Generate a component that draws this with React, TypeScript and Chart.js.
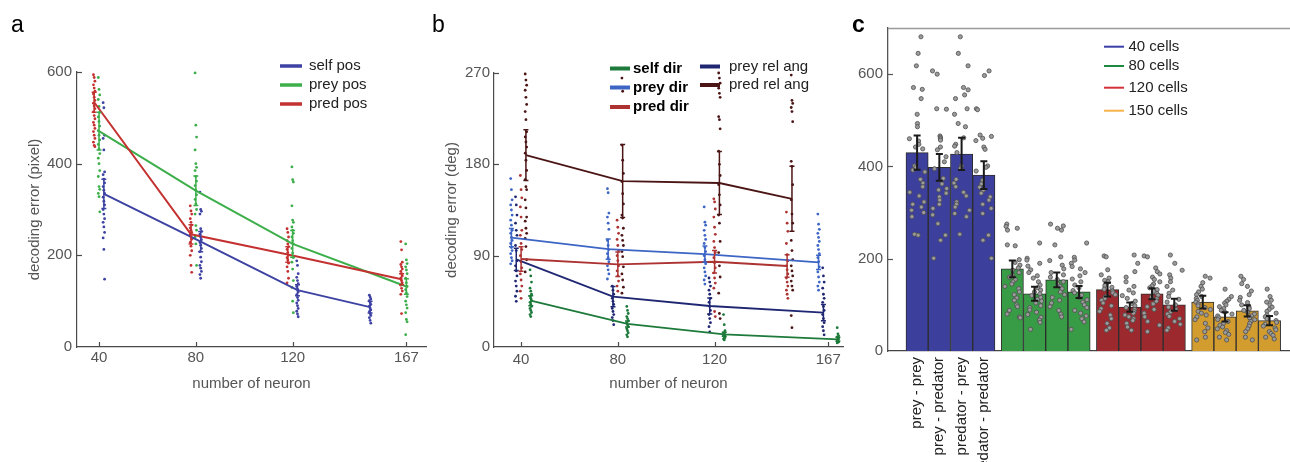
import React, { useEffect, useRef } from "react";
import { Chart, registerables } from "chart.js";

Chart.register(...registerables);

const FONT = "'Liberation Sans', Arial, Helvetica, sans-serif";
Chart.defaults.font.family = FONT;

// ---------------- shared ----------------
const NEURON_TICKS = [40, 80, 120, 167];

// ---------------- panel a (position decoding, pixel) ----------------
const A_Y_TICKS = [0, 200, 400, 600];
const A_SELF_X = [40, 80, 120, 150];
const A_PREY_X = [40, 80, 120, 167];
const A_PRED_X = [40, 80, 120, 167];
const A_SELF_MEAN = [334, 230, 124, 87];
const A_SELF_ERR = [32, 22, 12, 13];
const A_PREY_MEAN = [471, 341, 225, 132];
const A_PREY_ERR = [41, 32, 29, 17];
const A_PRED_MEAN = [534, 246, 202, 148];
const A_PRED_ERR = [22, 21, 17, 12];
const A_SELF_DOTS = [
  [533, 522, 462, 455, 430, 382, 376, 366, 358, 350, 342, 335, 327, 318, 310, 300, 290, 280, 272, 262, 250, 238, 213, 148],
  [338, 300, 296, 290, 258, 252, 246, 240, 234, 228, 222, 215, 208, 196, 186, 178, 172, 165, 158, 150],
  [188, 178, 160, 152, 145, 138, 132, 126, 120, 114, 108, 102, 96, 90, 84, 78, 72, 66],
  [113, 109, 105, 101, 97, 93, 89, 85, 81, 77, 73, 69, 64, 58, 52],
];
const A_PREY_DOTS = [
  [588, 562, 550, 540, 525, 512, 502, 492, 482, 472, 462, 452, 442, 432, 422, 412, 400, 385, 372, 350, 344, 335, 328, 295],
  [598, 484, 458, 430, 400, 392, 385, 372, 362, 352, 342, 332, 322, 312, 300, 290, 265, 255, 240, 225, 178],
  [393, 365, 360, 308, 277, 272, 262, 255, 248, 240, 232, 225, 215, 205, 195, 185, 170, 145, 130, 100, 75],
  [225, 190, 182, 175, 168, 160, 150, 140, 132, 125, 118, 110, 100, 92, 85, 75, 60, 55, 27],
];
const A_PRED_DOTS = [
  [594, 588, 580, 572, 565, 558, 552, 545, 538, 532, 526, 520, 513, 505, 498, 490, 484, 477, 470, 462, 455, 447, 440, 437],
  [308, 297, 290, 280, 272, 266, 260, 255, 250, 245, 240, 235, 228, 220, 210, 200, 178, 163],
  [258, 250, 240, 232, 225, 219, 213, 206, 200, 195, 190, 183, 175, 165, 150, 140],
  [230, 212, 185, 180, 175, 170, 165, 160, 155, 150, 145, 140, 135, 128, 122, 115, 73],
];

// ---------------- panel b (direction decoding, deg) ----------------
const B_Y_TICKS = [0, 90, 180, 270];
const B_SELF_X = [40, 80, 120, 167];
const B_PREYDIR_X = [40, 80, 120, 167];
const B_PREYREL_X = [40, 80, 120, 167];
const B_PREDDIR_X = [40, 80, 120, 150];
const B_PREDREL_X = [40, 80, 120, 150];
const B_SELF_MEAN = [45.6, 22.7, 12.5, 7.6];
const B_SELF_ERR = [5, 3, 2, 2];
const B_PREYDIR_MEAN = [107.7, 96.5, 91.6, 83.4];
const B_PREYDIR_ERR = [9, 10, 8, 7];
const B_PREDDIR_MEAN = [86.7, 81.5, 84, 79.8];
const B_PREDDIR_ERR = [12, 12, 11, 11];
const B_PREYREL_MEAN = [86.4, 49.6, 40.4, 33.8];
const B_PREYREL_ERR = [11, 10, 8, 8];
const B_PREDREL_MEAN = [189, 163.5, 161.6, 146];
const B_PREDREL_ERR = [25, 36, 31, 32];
const B_SELF_DOTS = [
  [76, 70, 64, 58, 55, 52, 50, 48, 46, 44, 42, 40, 38, 36, 34, 32, 30],
  [40, 36, 33, 30, 28, 26, 24, 22, 20, 18, 16, 14, 12, 10],
  [32, 22, 16, 14, 13, 12, 11, 10, 9, 8, 7],
  [19, 13, 11, 10, 9, 8, 7, 6, 5, 4],
];
const B_PREYDIR_DOTS = [
  [166, 155, 145, 140, 135, 130, 125, 120, 115, 112, 108, 105, 102, 98, 95, 92, 88, 85, 82],
  [156, 152, 132, 128, 122, 116, 105, 100, 96, 92, 88, 84, 80, 76, 72, 67],
  [138, 123, 120, 115, 110, 106, 102, 98, 94, 90, 86, 82, 78, 74, 70, 66, 62],
  [131, 121, 116, 112, 108, 104, 100, 96, 92, 88, 84, 79, 74, 69, 64, 60, 56],
];
const B_PREYREL_DOTS = [
  [148, 140, 130, 122, 115, 110, 100, 95, 85, 80, 75, 70, 65, 60, 55, 50, 45],
  [60, 56, 52, 48, 45, 42, 38, 35, 32, 29, 26, 22],
  [68, 64, 60, 56, 52, 48, 44, 40, 36, 32, 28, 24, 20, 15],
  [78, 70, 64, 58, 52, 48, 44, 40, 36, 32, 28, 24, 20, 16, 12],
];
const B_PREDDIR_DOTS = [
  [169, 155, 147, 138, 128, 115, 110, 102, 96, 90, 84, 78, 72, 66, 60, 55, 48],
  [125, 118, 112, 106, 100, 95, 90, 85, 80, 75, 70, 65, 60, 55],
  [146, 143, 136, 128, 118, 111, 104, 98, 93, 88, 83, 78, 73, 68, 63, 58, 35, 30],
  [133, 122, 114, 102, 91, 85, 80, 76, 72, 68, 64, 60, 56, 52, 48],
];
const B_PREDREL_DOTS = [
  [269, 263, 258, 253, 246, 239, 232, 224, 212, 207, 202, 197, 191, 184, 174, 165, 158, 155, 145, 137, 128, 124, 117, 112, 107, 99, 86, 74],
  [265, 252, 237, 199, 184, 171, 163, 151, 141, 130, 127, 117, 110, 105, 100, 94, 89, 79, 72, 66, 59, 53],
  [270, 265, 260, 255, 250, 246, 227, 224, 215, 193, 180, 169, 160, 150, 140, 130, 122, 104, 93, 80, 69, 53, 33, 28],
  [268, 243, 240, 236, 232, 222, 183, 178, 160, 145, 131, 122, 105, 95, 86, 80, 75, 70, 65, 60, 56, 31, 19],
];

// ---------------- panel c (bars) ----------------
const C_Y_TICKS = [0, 200, 400, 600];
const C_PAIR_LABELS = ["prey - prey", "prey - predator", "predator - prey", "predator - predator"];
const C_CELL_LABELS = ["40 cells", "80 cells", "120 cells", "150 cells"];
const C_MEAN_40 = [430, 398, 427, 381];
const C_ERR_40 = [37, 29, 35, 30];
const C_MEAN_80 = [178, 124, 154, 128];
const C_ERR_80 = [18, 15, 16, 13];
const C_MEAN_120 = [133, 95, 124, 100];
const C_ERR_120 = [15, 10, 12, 13];
const C_MEAN_150 = [106, 74, 87, 66];
const C_ERR_150 = [14, 10, 12, 10];
const C_DOTS_40 = [
  [681, 645, 618, 571, 567, 547, 513, 493, 486, 460, 455, 448, 442, 438, 401, 398, 392, 388, 372, 364, 356, 344, 336, 323, 318, 312, 305, 300, 291, 253, 251],
  [607, 600, 525, 524, 466, 463, 460, 457, 442, 436, 421, 410, 395, 374, 362, 352, 349, 342, 334, 327, 318, 309, 295, 276, 251, 240, 201],
  [681, 645, 618, 571, 566, 555, 547, 525, 513, 493, 486, 462, 448, 444, 430, 401, 396, 372, 364, 356, 344, 336, 323, 318, 312, 305, 298, 291, 253],
  [607, 597, 525, 523, 468, 465, 461, 456, 442, 437, 401, 398, 390, 370, 362, 355, 349, 342, 334, 327, 318, 309, 298, 251, 240, 201],
];
const C_DOTS_80 = [
  [275, 270, 266, 262, 230, 228, 198, 192, 186, 180, 175, 170, 165, 160, 155, 150, 145, 140, 135, 128, 122, 115, 110, 100, 96, 88, 80, 74, 72],
  [234, 201, 197, 190, 184, 176, 170, 163, 158, 150, 143, 137, 132, 128, 124, 120, 116, 112, 108, 104, 98, 94, 89, 84, 79, 73, 67, 62, 47],
  [275, 271, 266, 262, 230, 204, 196, 186, 178, 170, 165, 160, 155, 150, 145, 140, 135, 128, 122, 116, 110, 104, 96, 88, 80, 74],
  [234, 203, 197, 190, 183, 178, 170, 163, 156, 150, 143, 137, 131, 126, 121, 116, 111, 106, 100, 94, 88, 82, 76, 70, 63, 47],
];
const C_DOTS_120 = [
  [206, 204, 176, 165, 158, 153, 150, 146, 142, 138, 134, 130, 126, 122, 118, 114, 110, 104, 98, 92, 86, 78, 70, 60, 50, 45],
  [208, 190, 172, 160, 150, 140, 132, 126, 120, 114, 108, 103, 98, 94, 90, 86, 82, 78, 74, 70, 66, 60, 52, 45],
  [206, 204, 180, 172, 167, 160, 155, 150, 145, 141, 137, 133, 129, 125, 121, 117, 113, 108, 102, 96, 90, 82, 74, 64, 56, 42],
  [208, 190, 175, 165, 158, 150, 140, 132, 125, 118, 112, 106, 100, 95, 90, 85, 80, 75, 70, 64, 58, 50, 45],
];
const C_DOTS_150 = [
  [162, 158, 148, 140, 134, 128, 122, 118, 114, 110, 106, 102, 98, 94, 90, 86, 82, 78, 74, 68, 60, 50, 42, 30, 24],
  [134, 118, 112, 108, 104, 100, 96, 92, 88, 84, 80, 76, 72, 68, 64, 60, 56, 52, 48, 44, 40, 36, 30, 24],
  [162, 155, 146, 140, 130, 122, 116, 110, 105, 100, 96, 92, 88, 84, 80, 76, 72, 68, 64, 60, 54, 48, 42, 30, 24],
  [134, 118, 110, 106, 100, 95, 90, 86, 82, 78, 74, 70, 66, 62, 58, 54, 50, 46, 42, 38, 34, 30, 26],
];

// ---------------- helpers ----------------
function columnDots(xs: number[], offset: number, groups: number[][]) {
  const pts: { x: number; y: number }[] = [];
  groups.forEach((vals, g) =>
    vals.forEach((v, i) => pts.push({ x: xs[g] + offset + ((i % 3) - 1) * 0.3, y: v }))
  );
  return pts;
}

const errorBarPlugin = {
  id: "errorBars",
  afterDatasetsDraw(chart: any) {
    const ctx = chart.ctx;
    chart.data.datasets.forEach((ds: any, di: number) => {
      if (!ds.errors) return;
      const meta = chart.getDatasetMeta(di);
      const ys = chart.scales[meta.yAxisID];
      ctx.save();
      ctx.strokeStyle = ds.errorColor;
      ctx.lineWidth = ds.errorWidth;
      meta.data.forEach((el: any, i: number) => {
        const raw = ds.data[i];
        const v = typeof raw === "number" ? raw : raw.y;
        const e = ds.errors[i];
        const x = el.x;
        const y1 = ys.getPixelForValue(v - e);
        const y2 = ys.getPixelForValue(v + e);
        const c = ds.errorCap;
        ctx.beginPath();
        ctx.moveTo(x, y1);
        ctx.lineTo(x, y2);
        ctx.moveTo(x - c, y1);
        ctx.lineTo(x + c, y1);
        ctx.moveTo(x - c, y2);
        ctx.lineTo(x + c, y2);
        ctx.stroke();
      });
      ctx.restore();
    });
  },
};

type LegendItem = {
  text: string;
  color: string;
  x1: number;
  x2: number;
  tx: number;
  y: number;
  lw: number;
  font: string;
  textColor: string;
};

function makeDecor(cfg: {
  letter: string;
  letterX: number;
  letterFont: string;
  legend: LegendItem[];
  axisColor: string;
  xTicksIn: boolean;
  topLine?: string;
}) {
  return {
    id: "decor",
    afterDraw(chart: any) {
      const ctx = chart.ctx;
      const { left, right, top, bottom } = chart.chartArea;
      const xs = chart.scales.x;
      const ys = chart.scales.y;
      ctx.save();
      ctx.strokeStyle = cfg.axisColor;
      ctx.lineWidth = 1.2;
      ys.ticks.forEach((t: any) => {
        if (t.value === ys.min) return;
        const p = Math.round(ys.getPixelForValue(t.value)) + 0.5;
        ctx.beginPath();
        ctx.moveTo(left, p);
        ctx.lineTo(left + 5, p);
        ctx.stroke();
      });
      if (cfg.xTicksIn) {
        xs.ticks.forEach((t: any) => {
          const p = Math.round(xs.getPixelForValue(t.value)) + 0.5;
          ctx.beginPath();
          ctx.moveTo(p, bottom);
          ctx.lineTo(p, bottom - 5);
          ctx.stroke();
        });
      }
      if (cfg.topLine) {
        ctx.strokeStyle = cfg.topLine;
        ctx.lineWidth = 1.5;
        ctx.beginPath();
        ctx.moveTo(left, Math.round(top) + 0.5);
        ctx.lineTo(right, Math.round(top) + 0.5);
        ctx.stroke();
      }
      cfg.legend.forEach((it) => {
        ctx.strokeStyle = it.color;
        ctx.lineWidth = it.lw;
        ctx.beginPath();
        ctx.moveTo(it.x1, it.y);
        ctx.lineTo(it.x2, it.y);
        ctx.stroke();
        ctx.fillStyle = it.textColor;
        ctx.font = it.font;
        ctx.textBaseline = "middle";
        ctx.textAlign = "left";
        ctx.fillText(it.text, it.tx, it.y);
      });
      ctx.fillStyle = "#000";
      ctx.font = cfg.letterFont;
      ctx.textBaseline = "alphabetic";
      ctx.textAlign = "left";
      ctx.fillText(cfg.letter, cfg.letterX, 32);
      ctx.restore();
    },
  };
}

function baseOptions(padding: any) {
  return {
    responsive: false,
    maintainAspectRatio: false,
    animation: false,
    events: [],
    layout: { padding, autoPadding: false },
    plugins: { legend: { display: false }, tooltip: { enabled: false }, title: { display: false } },
  };
}

function lineXScale(min: number, max: number, pad: number) {
  return {
    type: "linear",
    min,
    max,
    offset: false,
    afterBuildTicks: (s: any) => {
      s.ticks = NEURON_TICKS.map((v) => ({ value: v }));
    },
    afterFit: (s: any) => {
      s.height = 50;
      s.paddingLeft = 0;
      s.paddingRight = 0;
    },
    grid: { display: false, drawTicks: false },
    border: { display: true, color: "#4a4a4a", width: 1.2 },
    ticks: { padding: pad, color: "#555", font: { size: 15 }, maxRotation: 0, autoSkip: false },
    title: { display: true, text: "number of neuron", color: "#555", font: { size: 15 }, padding: { top: 4, bottom: 4 } },
  };
}

function lineYScale(max: number, ticks: number[], title: string, pad: number) {
  return {
    type: "linear",
    min: 0,
    max,
    afterBuildTicks: (s: any) => {
      s.ticks = ticks.map((v) => ({ value: v }));
    },
    afterFit: (s: any) => {
      s.width = 55;
      s.paddingTop = 0;
      s.paddingBottom = 0;
    },
    grid: { display: false, drawTicks: false },
    border: { display: true, color: "#4a4a4a", width: 1.2 },
    ticks: { padding: pad, color: "#555", font: { size: 15 }, autoSkip: false },
    title: { display: true, text: title, color: "#555", font: { size: 15 }, padding: { top: 4, bottom: 4 } },
  };
}

type Series = { label: string; color: string; xs: number[]; off: number; mean: number[]; err: number[]; dots: number[][] };

function seriesDatasets(series: Series[], lineWidth: number) {
  const datasets: any[] = [];
  series.forEach((s) =>
    datasets.push({
      type: "scatter",
      label: s.label + " trials",
      data: columnDots(s.xs, s.off, s.dots),
      backgroundColor: s.color,
      borderWidth: 0,
      pointRadius: 1.4,
      order: 3,
      clip: false,
    })
  );
  series.forEach((s) =>
    datasets.push({
      type: "line",
      label: s.label,
      data: s.xs.map((x, i) => ({ x: x + s.off, y: s.mean[i] })),
      borderColor: s.color,
      borderWidth: lineWidth,
      pointRadius: 0,
      tension: 0,
      fill: false,
      order: 1,
      clip: false,
      errors: s.err,
      errorColor: s.color,
      errorWidth: 1.5,
      errorCap: 2.5,
    })
  );
  return datasets;
}

// ---------------- builders ----------------
const A_COLORS = { self: "#3d42a3", prey: "#3cae4a", pred: "#c43131" };
const B_COLORS = { self: "#1d7a3a", preyDir: "#3d65c5", predDir: "#ad3333", preyRel: "#1f2672", predRel: "#4b1515" };
const C_FILLS = ["#3c3f9b", "#389c46", "#9b292e", "#d39c2e"];
const C_LEGEND_COLORS = ["#3a3fa8", "#1e8a40", "#d3323c", "#f7b24c"];

function buildA(canvas: HTMLCanvasElement) {
  const series: Series[] = [
    { label: "pred pos", color: A_COLORS.pred, xs: A_PRED_X, off: -2, mean: A_PRED_MEAN, err: A_PRED_ERR, dots: A_PRED_DOTS },
    { label: "prey pos", color: A_COLORS.prey, xs: A_PREY_X, off: 0, mean: A_PREY_MEAN, err: A_PREY_ERR, dots: A_PREY_DOTS },
    { label: "self pos", color: A_COLORS.self, xs: A_SELF_X, off: 2, mean: A_SELF_MEAN, err: A_SELF_ERR, dots: A_SELF_DOTS },
  ];
  const f = `15px ${FONT}`;
  const legend: LegendItem[] = [
    { text: "self pos", color: A_COLORS.self, x1: 280, x2: 302, tx: 309, y: 66, lw: 3.5, font: f, textColor: "#222" },
    { text: "prey pos", color: A_COLORS.prey, x1: 280, x2: 302, tx: 309, y: 85, lw: 3.5, font: f, textColor: "#222" },
    { text: "pred pos", color: A_COLORS.pred, x1: 280, x2: 302, tx: 309, y: 104, lw: 3.5, font: f, textColor: "#222" },
  ];
  return new Chart(canvas, {
    type: "line",
    data: { datasets: seriesDatasets(series, 2) },
    options: {
      ...baseOptions({ left: 22, top: 72, right: 864, bottom: 65 }),
      scales: {
        x: lineXScale(30.9, 175.1, 2),
        y: lineYScale(600, A_Y_TICKS, "decoding error (pixel)", 5),
      },
    } as any,
    plugins: [errorBarPlugin, makeDecor({ letter: "a", letterX: 11, letterFont: `23px ${FONT}`, legend, axisColor: "#4a4a4a", xTicksIn: true })],
  });
}

function buildB(canvas: HTMLCanvasElement) {
  const series: Series[] = [
    { label: "prey dir", color: B_COLORS.preyDir, xs: B_PREYDIR_X, off: -4, mean: B_PREYDIR_MEAN, err: B_PREYDIR_ERR, dots: B_PREYDIR_DOTS },
    { label: "prey rel ang", color: B_COLORS.preyRel, xs: B_PREYREL_X, off: -2, mean: B_PREYREL_MEAN, err: B_PREYREL_ERR, dots: B_PREYREL_DOTS },
    { label: "pred dir", color: B_COLORS.predDir, xs: B_PREDDIR_X, off: 0, mean: B_PREDDIR_MEAN, err: B_PREDDIR_ERR, dots: B_PREDDIR_DOTS },
    { label: "pred rel ang", color: B_COLORS.predRel, xs: B_PREDREL_X, off: 2, mean: B_PREDREL_MEAN, err: B_PREDREL_ERR, dots: B_PREDREL_DOTS },
    { label: "self dir", color: B_COLORS.self, xs: B_SELF_X, off: 4, mean: B_SELF_MEAN, err: B_SELF_ERR, dots: B_SELF_DOTS },
  ];
  const fb = `bold 15px ${FONT}`;
  const fn = `15px ${FONT}`;
  const legend: LegendItem[] = [
    { text: "self dir", color: B_COLORS.self, x1: 610, x2: 630, tx: 633, y: 68.5, lw: 4, font: fb, textColor: "#000" },
    { text: "prey dir", color: B_COLORS.preyDir, x1: 610, x2: 630, tx: 633, y: 87.5, lw: 4, font: fb, textColor: "#000" },
    { text: "pred dir", color: B_COLORS.predDir, x1: 610, x2: 630, tx: 633, y: 107, lw: 4, font: fb, textColor: "#000" },
    { text: "prey rel ang", color: B_COLORS.preyRel, x1: 700, x2: 720, tx: 729, y: 66.5, lw: 4, font: fn, textColor: "#222" },
    { text: "pred rel ang", color: B_COLORS.predRel, x1: 700, x2: 720, tx: 729, y: 85, lw: 4, font: fn, textColor: "#222" },
  ];
  return new Chart(canvas, {
    type: "line",
    data: { datasets: seriesDatasets(series, 1.8) },
    options: {
      ...baseOptions({ left: 439, top: 73, right: 447, bottom: 65 }),
      scales: {
        x: lineXScale(28.8, 173.1, 4),
        y: lineYScale(270, B_Y_TICKS, "decoding error (deg)", 4),
      },
    } as any,
    plugins: [errorBarPlugin, makeDecor({ letter: "b", letterX: 432, letterFont: `23px ${FONT}`, legend, axisColor: "#4a4a4a", xTicksIn: true })],
  });
}

const C_GROUP_PITCH = 4.28;
const barX = (g: number, k: number) => g * C_GROUP_PITCH + k;
// deterministic scatter of the dots inside a bar (layout only, not data)
const jitter = (i: number, b: number) => {
  const h = Math.sin((i + 1) * 12.9898 + (b + 1) * 78.233) * 43758.5453;
  return (h - Math.floor(h) - 0.5) * 0.72;
};

function buildC(canvas: HTMLCanvasElement) {
  const groups = [
    { mean: C_MEAN_40, err: C_ERR_40, dots: C_DOTS_40 },
    { mean: C_MEAN_80, err: C_ERR_80, dots: C_DOTS_80 },
    { mean: C_MEAN_120, err: C_ERR_120, dots: C_DOTS_120 },
    { mean: C_MEAN_150, err: C_ERR_150, dots: C_DOTS_150 },
  ];
  const datasets: any[] = [];
  groups.forEach((g, gi) =>
    datasets.push({
      type: "bar",
      label: C_CELL_LABELS[gi],
      data: g.mean.map((v, k) => ({ x: barX(gi, k), y: v })),
      backgroundColor: C_FILLS[gi],
      borderColor: "#2e2e2e",
      borderWidth: 1,
      grouped: false,
      barPercentage: 1,
      categoryPercentage: 1,
      order: 3,
      errors: g.err,
      errorColor: "#1a1a1a",
      errorWidth: 2,
      errorCap: 3.5,
    })
  );
  const dots: { x: number; y: number }[] = [];
  groups.forEach((g, gi) =>
    g.dots.forEach((vals, k) => vals.forEach((v, i) => dots.push({ x: barX(gi, k) + jitter(i, gi * 4 + k), y: v })))
  );
  datasets.push({
    type: "scatter",
    label: "sessions",
    data: dots,
    backgroundColor: "#9b9b9b",
    borderColor: "#4e4e4e",
    borderWidth: 0.8,
    pointRadius: 2.1,
    order: 2,
    clip: false,
  });
  const f = `15px ${FONT}`;
  const ys = [46.7, 66, 87.7, 110.7];
  const legend: LegendItem[] = C_CELL_LABELS.map((t, i) => ({
    text: t, color: C_LEGEND_COLORS[i], x1: 1104, x2: 1124, tx: 1128.5, y: ys[i], lw: 2, font: f, textColor: "#222",
  }));
  return new Chart(canvas, {
    type: "bar",
    data: { datasets },
    options: {
      ...baseOptions({ left: 840, top: 28, right: 20, bottom: 0 }),
      scales: {
        x: {
          type: "linear",
          min: -1.308,
          max: 17.66,
          offset: false,
          afterBuildTicks: (s: any) => {
            s.ticks = C_PAIR_LABELS.map((_, k) => ({ value: barX(0, k) }));
          },
          afterFit: (s: any) => {
            s.height = 111;
            s.paddingLeft = 0;
            s.paddingRight = 0;
          },
          grid: { display: false, drawTicks: false },
          border: { display: true, color: "#444", width: 1.3 },
          ticks: {
            padding: 6,
            color: "#222",
            font: { size: 15 },
            minRotation: 90,
            maxRotation: 90,
            autoSkip: false,
            callback: (_v: any, i: number) => C_PAIR_LABELS[i],
          },
        },
        y: {
          type: "linear",
          min: 0,
          max: 700,
          afterBuildTicks: (s: any) => {
            s.ticks = C_Y_TICKS.map((v) => ({ value: v }));
          },
          afterFit: (s: any) => {
            s.width = 48;
            s.paddingTop = 0;
            s.paddingBottom = 0;
          },
          grid: { display: false, drawTicks: false },
          border: { display: true, color: "#555", width: 1.3 },
          ticks: { padding: 5, color: "#555", font: { size: 15 }, autoSkip: false },
        },
      },
    } as any,
    plugins: [errorBarPlugin, makeDecor({ letter: "c", letterX: 852, letterFont: `bold 23px ${FONT}`, legend, axisColor: "#555", xTicksIn: false, topLine: "#9a9a9a" })],
  });
}

function ChartCanvas({ build, width }: { build: (c: HTMLCanvasElement) => Chart; width: number }) {
  const ref = useRef<HTMLCanvasElement>(null);
  useEffect(() => {
    const chart = build(ref.current as HTMLCanvasElement);
    return () => chart.destroy();
  }, []);
  return (
    <canvas
      ref={ref}
      width={width}
      height={462}
      style={{ position: "absolute", left: 0, top: 0, width, height: 462 }}
    />
  );
}

export default function App() {
  return (
    <div style={{ position: "fixed", left: 0, top: 0, width: 1290, height: 462, overflow: "hidden", background: "#fff" }}>
      <ChartCanvas build={buildA} width={1290} />
      <ChartCanvas build={buildB} width={1290} />
      <ChartCanvas build={buildC} width={1330} />
    </div>
  );
}
